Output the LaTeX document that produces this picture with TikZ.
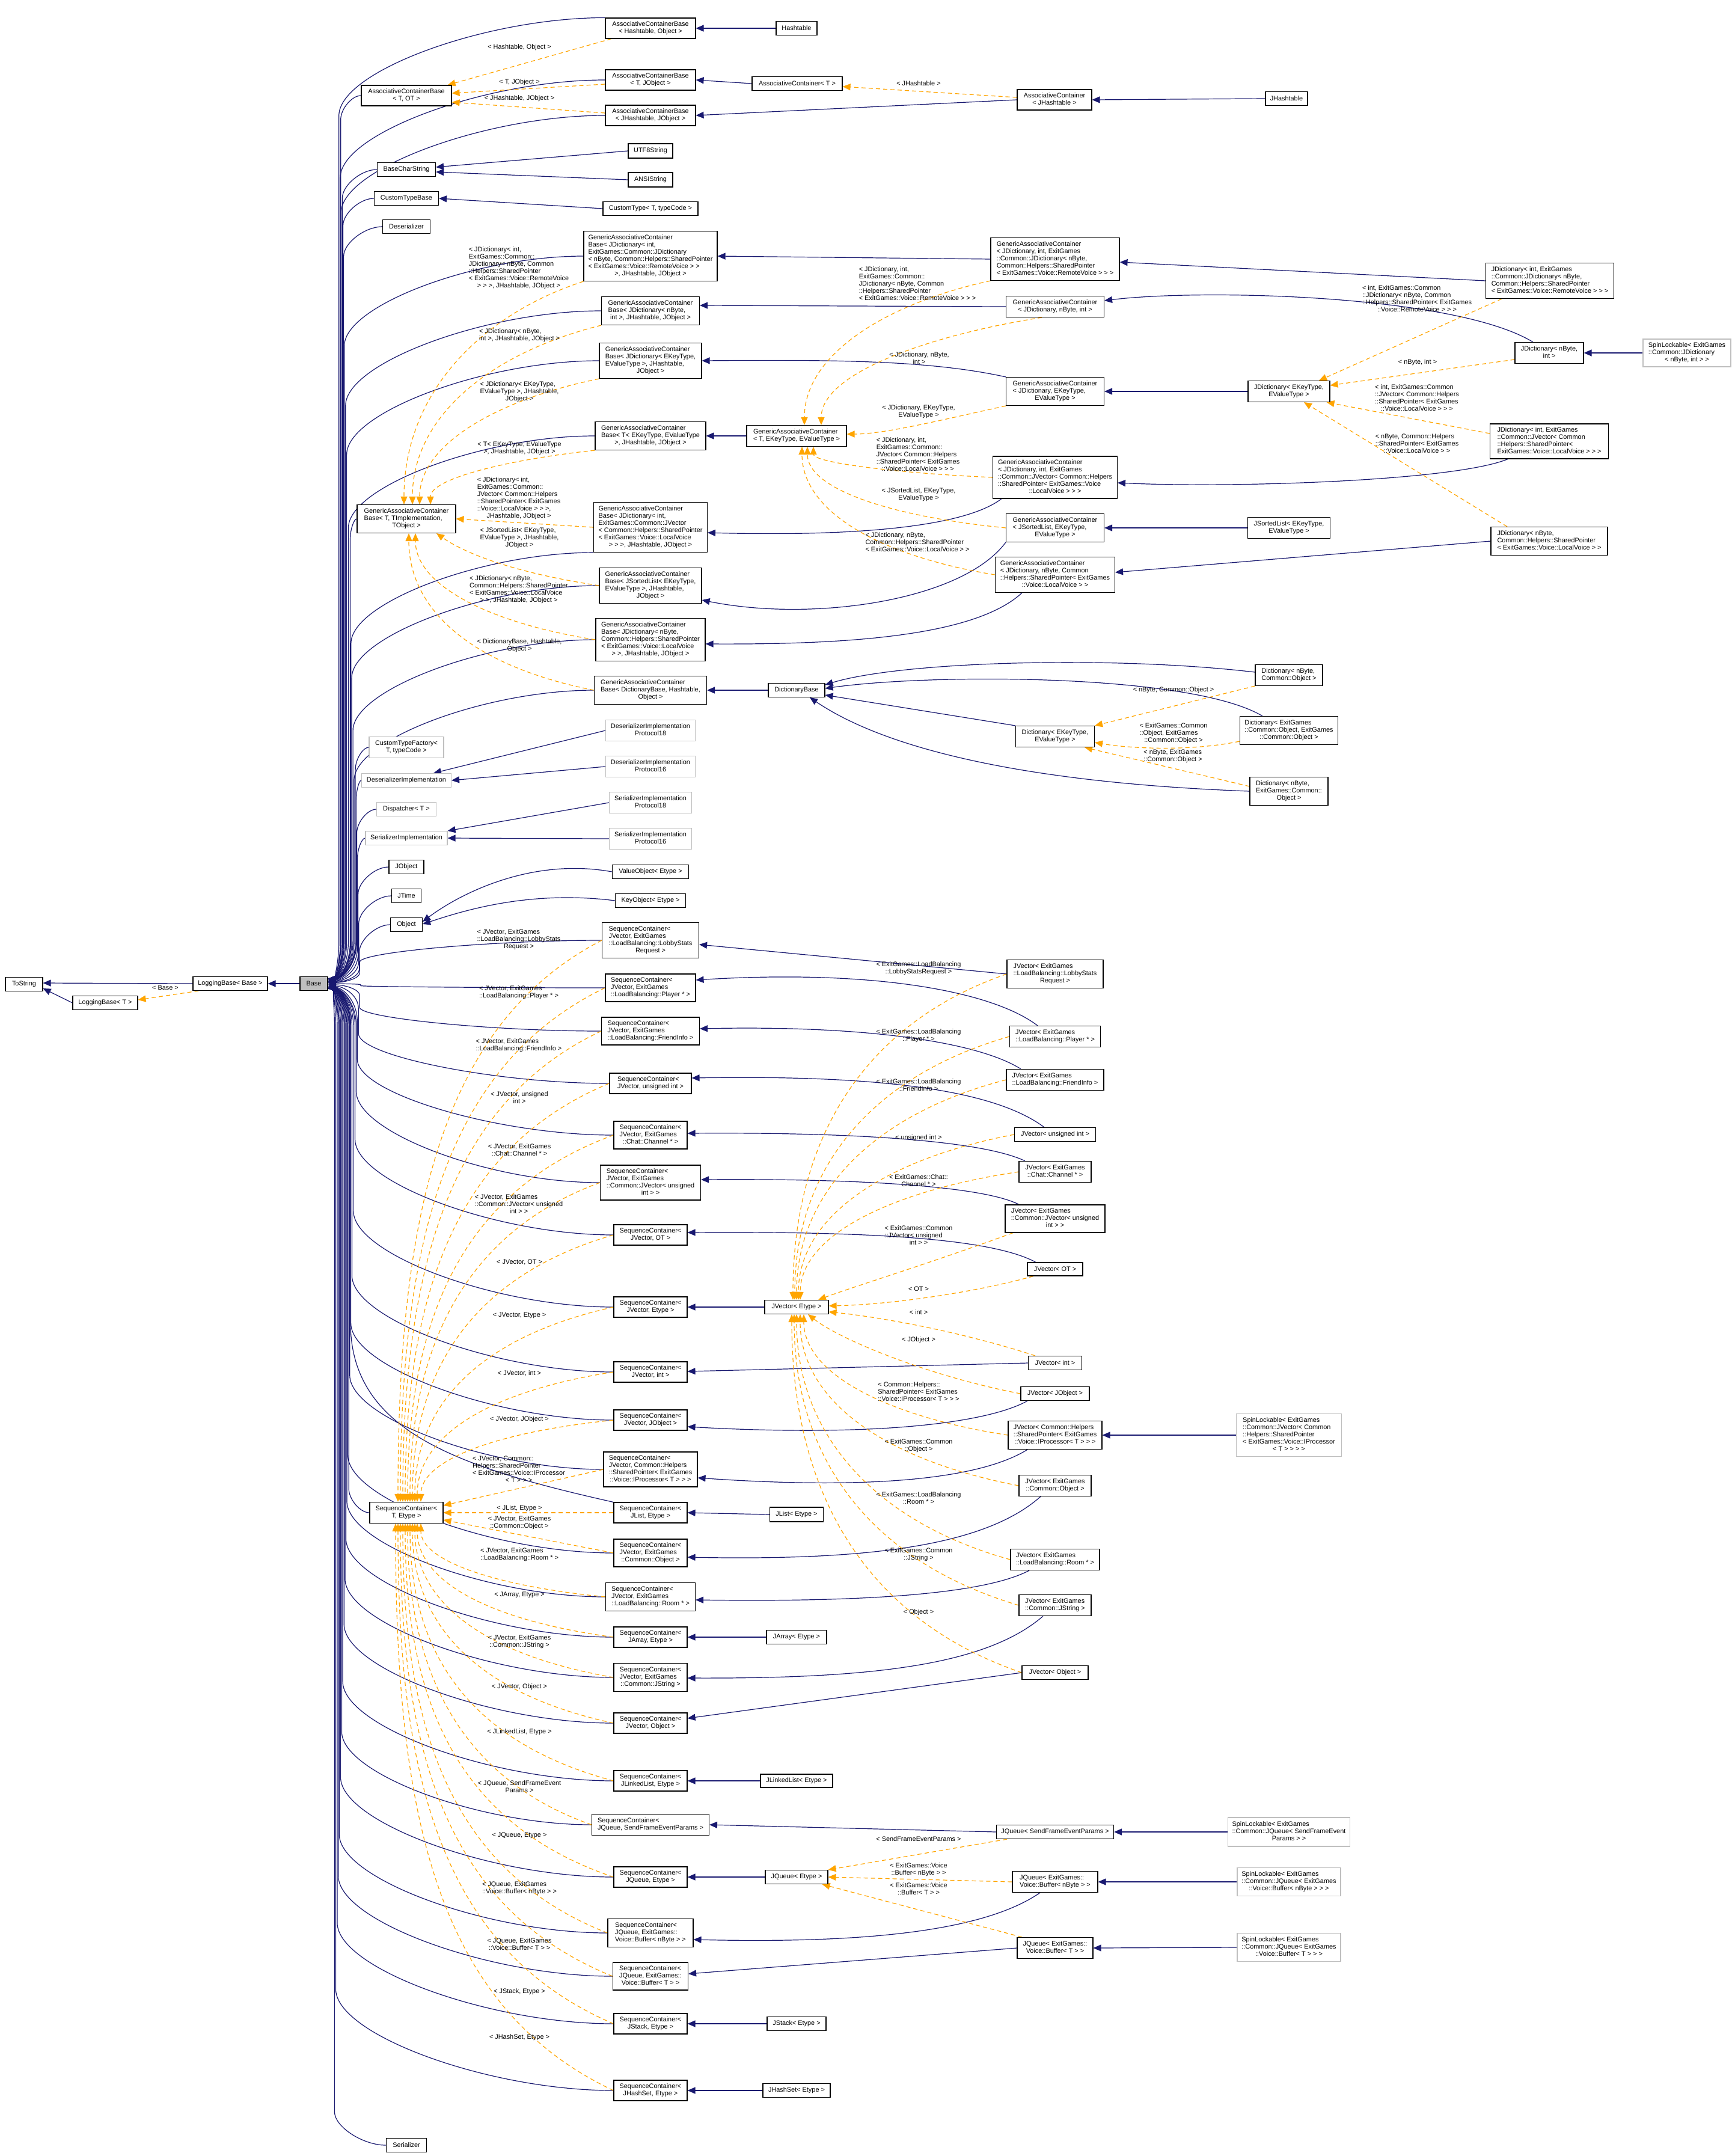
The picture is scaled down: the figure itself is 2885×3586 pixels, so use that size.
\documentclass[tikz,border=0pt]{standalone}
\usepackage{fontspec}
\setmainfont{Liberation Sans}
\usetikzlibrary{arrows.meta,calc}
\definecolor{eblue}{HTML}{191970}
\definecolor{eorange}{HTML}{FFA500}
\definecolor{gb}{HTML}{BFBFBF}
\pgfdeclarelayer{bg}
\pgfdeclarelayer{edges}
\pgfsetlayers{bg,edges,main}
\newcommand\nf{\fontsize{10.9}{12}\selectfont}
\newcommand\mlines[2]{\begin{tabular}{@{}l@{}}#1\\\multicolumn{1}{@{}c@{}}{#2}\end{tabular}}
\tikzset{
  box/.style={draw=black, line width=1.1pt, fill=white, inner sep=0pt, font=\nf},
  nb/.style 2 args={box, minimum width=#1, minimum height=#2},
  gnb/.style 2 args={box, draw=gb, minimum width=#1, minimum height=#2},
  lab/.style={inner sep=0pt, font=\nf},
  inh/.style={draw=eblue, line width=1.2pt, -{Triangle[length=13pt,width=11pt]}},
  tmpl/.style={draw=eorange, line width=1.2pt, dash pattern=on 7pt off 5pt, -{Triangle[length=13pt,width=11pt]}},
}
\newcommand\bedge[1]{\draw[inh] let \p1=(#1), \n1={\y1}, \n8={\x1},
  \n2={556+44*(1-abs(\n1+1636)/1950)},
  \n3={max(-8,min(8,(\n1+1636)/40))},
  \n4={ifthenelse(\n1>-1636,-1,1)},
  \n5={abs(\n1+1636)},
  \n6={min(0.5*\n5,0.3*(\n8-\n2)+30)},
  \n7={min(0.25*\n5,70)} in
  (\p1) .. controls ({\n2+0.55*(\n8-\n2)},\n1) and (\n2,{\n1+(\n4)*0.55*\n6}) .. (\n2,{\n1+(\n4)*\n6})
  -- (\n2,{-1636-(\n4)*\n7}) .. controls (\n2,{-1636-(\n4)*0.45*\n7}) and ({0.5*(\n2+545)},{-1636+\n3}) .. ([yshift=\n3]base.east);}
\newcommand\tvd[3]{\draw[tmpl] let \p1=(#1), \p2=(#2), \n1={\y1}, \n2={\y2}, \n3={\x2} in (\p1) .. controls (#3,{\n1+0.15*(\n2-\n1)}) and (\n3,{0.5*(\n1+\n2)}) .. (\p2);}
\begin{document}
\begin{tikzpicture}[x=1pt,y=1pt]
\begin{pgfonlayer}{bg}
\fill[white] (0,0) rectangle (2885,-3586);
\end{pgfonlayer}
\useasboundingbox (0,0) rectangle (2885,-3586);

% ---------- left
\node[nb={62}{23}] (tostr) at (40,-1637) {ToString};
\node[nb={108}{23}] (lbT) at (175,-1668) {LoggingBase< T >};
\node[nb={124}{23}] (lbB) at (383,-1636) {LoggingBase< Base >};
\node[nb={46}{23}, fill=gb] (base) at (522,-1636) {Base};

% ---------- column 2
\node[nb={150}{34}] (acbTOT) at (676,-159) {\mlines{AssociativeContainerBase}{< T, OT >}};
\node[nb={97}{23}] (bcs) at (676,-282) {BaseCharString};
\node[nb={107}{23}] (ctb) at (676,-330) {CustomTypeBase};
\node[nb={79}{23}] (deser) at (676,-377) {Deserializer};
\node[nb={164}{47}] (gacbT) at (676,-863) {\mlines{GenericAssociativeContainer\\Base< T, TImplementation,}{TObject >}};
\node[gnb={124}{35}] (ctf) at (676,-1243) {\mlines{CustomTypeFactory<}{T, typeCode >}};
\node[gnb={149}{23}] (dimpl) at (676,-1298) {DeserializerImplementation};
\node[gnb={99}{23}] (disp) at (676,-1346) {Dispatcher< T >};
\node[gnb={136}{23}] (simpl) at (676,-1394) {SerializerImplementation};
\node[nb={58}{23}] (jobj) at (676,-1442) {JObject};
\node[nb={49}{23}] (jtime) at (676,-1490) {JTime};
\node[nb={53}{23}] (obj) at (676,-1538) {Object};
\node[nb={122}{35}] (scT) at (676,-2516) {\mlines{SequenceContainer<}{T, Etype >}};
\node[nb={67}{23}] (ser) at (676,-3568) {Serializer};

% ---------- column 3
\node[nb={150}{34}] (acbHO) at (1082,-47) {\mlines{AssociativeContainerBase}{< Hashtable, Object >}};
\node[nb={150}{34}] (acbTJ) at (1082,-133) {\mlines{AssociativeContainerBase}{< T, JObject >}};
\node[nb={150}{34}] (acbJJ) at (1082,-192) {\mlines{AssociativeContainerBase}{< JHashtable, JObject >}};
\node[nb={74}{24}] (utf8) at (1082,-251) {UTF8String};
\node[nb={74}{24}] (ansi) at (1082,-299) {ANSIString};
\node[nb={158}{23}] (ctype) at (1082,-347) {CustomType< T, typeCode >};
\node[nb={222}{83}] (gacbRV) at (1082,-426) {\mlines{GenericAssociativeContainer\\Base< JDictionary< int,\\ExitGames::Common::JDictionary\\< nByte, Common::Helpers::SharedPointer\\< ExitGames::Voice::RemoteVoice > >}{>, JHashtable, JObject >}};
\node[nb={163}{47}] (gacbNI) at (1082,-517) {\mlines{GenericAssociativeContainer\\Base< JDictionary< nByte,}{int >, JHashtable, JObject >}};
\node[nb={170}{59}] (gacbEK) at (1082,-600) {\mlines{GenericAssociativeContainer\\Base< JDictionary< EKeyType,\\EValueType >, JHashtable,}{JObject >}};
\node[nb={184}{47}] (gacbTT) at (1082,-725) {\mlines{GenericAssociativeContainer\\Base< T< EKeyType, EValueType}{>, JHashtable, JObject >}};
\node[nb={189}{83}] (gacbLV) at (1082,-877) {\mlines{GenericAssociativeContainer\\Base< JDictionary< int,\\ExitGames::Common::JVector\\< Common::Helpers::SharedPointer\\< ExitGames::Voice::LocalVoice}{> > >, JHashtable, JObject >}};
\node[nb={170}{59}] (gacbSL) at (1082,-974) {\mlines{GenericAssociativeContainer\\Base< JSortedList< EKeyType,\\EValueType >, JHashtable,}{JObject >}};
\node[nb={182}{71}] (gacbNS) at (1082,-1064) {\mlines{GenericAssociativeContainer\\Base< JDictionary< nByte,\\Common::Helpers::SharedPointer\\< ExitGames::Voice::LocalVoice}{> >, JHashtable, JObject >}};
\node[nb={187}{47}] (gacbDB) at (1082,-1148) {\mlines{GenericAssociativeContainer\\Base< DictionaryBase, Hashtable,}{Object >}};
\node[gnb={149}{35}] (dip18) at (1082,-1215) {\mlines{DeserializerImplementation}{Protocol18}};
\node[gnb={149}{35}] (dip16) at (1082,-1275) {\mlines{DeserializerImplementation}{Protocol16}};
\node[gnb={137}{35}] (sip18) at (1082,-1335) {\mlines{SerializerImplementation}{Protocol18}};
\node[gnb={137}{35}] (sip16) at (1082,-1395) {\mlines{SerializerImplementation}{Protocol16}};
\node[nb={127}{23}] (vobj) at (1082,-1450) {ValueObject< Etype >};
\node[nb={117}{23}] (kobj) at (1082,-1498) {KeyObject< Etype >};
\node[nb={161}{59}] (scLS) at (1082,-1564) {\mlines{SequenceContainer<\\JVector, ExitGames\\::LoadBalancing::LobbyStats}{Request >}};
\node[nb={150}{46}] (scPL) at (1082,-1643) {\mlines{SequenceContainer<\\JVector, ExitGames}{::LoadBalancing::Player * >}};
\node[nb={163}{46}] (scFI) at (1082,-1715) {\mlines{SequenceContainer<\\JVector, ExitGames}{::LoadBalancing::FriendInfo >}};
\node[nb={136}{34}] (scUI) at (1082,-1802) {\mlines{SequenceContainer<}{JVector, unsigned int >}};
\node[nb={122}{46}] (scCH) at (1082,-1888) {\mlines{SequenceContainer<\\JVector, ExitGames}{::Chat::Channel * >}};
\node[nb={167}{58}] (scJU) at (1082,-1967) {\mlines{SequenceContainer<\\JVector, ExitGames\\::Common::JVector< unsigned}{int > >}};
\node[nb={122}{34}] (scOT) at (1082,-2054) {\mlines{SequenceContainer<}{JVector, OT >}};
\node[nb={122}{34}] (scET) at (1082,-2174) {\mlines{SequenceContainer<}{JVector, Etype >}};
\node[nb={122}{34}] (scIN) at (1082,-2282) {\mlines{SequenceContainer<}{JVector, int >}};
\node[nb={122}{34}] (scJO) at (1082,-2362) {\mlines{SequenceContainer<}{JVector, JObject >}};
\node[nb={156}{58}] (scIP) at (1082,-2444) {\mlines{SequenceContainer<\\JVector, Common::Helpers\\::SharedPointer< ExitGames}{::Voice::IProcessor< T > > >}};
\node[nb={122}{34}] (scJL) at (1082,-2516) {\mlines{SequenceContainer<}{JList, Etype >}};
\node[nb={122}{46}] (scCO) at (1082,-2583) {\mlines{SequenceContainer<\\JVector, ExitGames}{::Common::Object >}};
\node[nb={149}{47}] (scRM) at (1082,-2656) {\mlines{SequenceContainer<\\JVector, ExitGames}{::LoadBalancing::Room * >}};
\node[nb={122}{34}] (scJA) at (1082,-2723) {\mlines{SequenceContainer<}{JArray, Etype >}};
\node[nb={122}{47}] (scJS) at (1082,-2790) {\mlines{SequenceContainer<\\JVector, ExitGames}{::Common::JString >}};
\node[nb={122}{34}] (scOB) at (1082,-2866) {\mlines{SequenceContainer<}{JVector, Object >}};
\node[nb={122}{34}] (scLL) at (1082,-2962) {\mlines{SequenceContainer<}{JLinkedList, Etype >}};
\node[nb={195}{35}] (scSF) at (1082,-3035) {\mlines{SequenceContainer<}{JQueue, SendFrameEventParams >}};
\node[nb={122}{34}] (scQE) at (1082,-3122) {\mlines{SequenceContainer<}{JQueue, Etype >}};
\node[nb={142}{47}] (scBN) at (1082,-3215) {\mlines{SequenceContainer<\\JQueue, ExitGames::}{Voice::Buffer< nByte > >}};
\node[nb={125}{46}] (scBT) at (1082,-3287) {\mlines{SequenceContainer<\\JQueue, ExitGames::}{Voice::Buffer< T > >}};
\node[nb={122}{34}] (scST) at (1082,-3366) {\mlines{SequenceContainer<}{JStack, Etype >}};
\node[nb={122}{34}] (scHS) at (1082,-3477) {\mlines{SequenceContainer<}{JHashSet, Etype >}};

% ---------- column 4
\node[nb={68}{23}] (hasht) at (1325,-47) {Hashtable};
\node[nb={150}{23}] (acT) at (1326,-139) {AssociativeContainer< T >};
\node[nb={166}{35}] (gacT) at (1325,-725) {\mlines{GenericAssociativeContainer}{< T, EKeyType, EValueType >}};
\node[nb={94}{23}] (dictb) at (1325,-1148) {DictionaryBase};
\node[nb={106}{23}] (jvE) at (1325,-2174) {JVector< Etype >};
\node[nb={89}{24}] (jlE) at (1325,-2519) {JList< Etype >};
\node[nb={100}{23}] (jaE) at (1325,-2723) {JArray< Etype >};
\node[nb={120}{22}] (jllE) at (1325,-2962) {JLinkedList< Etype >};
\node[nb={104}{23}] (jqE) at (1325,-3122) {JQueue< Etype >};
\node[nb={98}{23}] (jsE) at (1325,-3366) {JStack< Etype >};
\node[nb={112}{23}] (jhE) at (1325,-3477) {JHashSet< Etype >};

% ---------- column 5
\node[nb={124}{34}] (acJH) at (1754,-166) {\mlines{AssociativeContainer}{< JHashtable >}};
\node[nb={214}{71}] (gacRV) at (1755,-431) {\mlines{GenericAssociativeContainer\\< JDictionary, int, ExitGames\\::Common::JDictionary< nByte,\\Common::Helpers::SharedPointer}{< ExitGames::Voice::RemoteVoice > > >}};
\node[nb={163}{35}] (gacNI) at (1755,-510) {\mlines{GenericAssociativeContainer}{< JDictionary, nByte, int >}};
\node[nb={163}{47}] (gacEK) at (1755,-651) {\mlines{GenericAssociativeContainer\\< JDictionary, EKeyType,}{EValueType >}};
\node[nb={207}{70}] (gacLV) at (1755,-794) {\mlines{GenericAssociativeContainer\\< JDictionary, int, ExitGames\\::Common::JVector< Common::Helpers\\::SharedPointer< ExitGames::Voice}{::LocalVoice > > >}};
\node[nb={163}{47}] (gacSL) at (1755,-878) {\mlines{GenericAssociativeContainer\\< JSortedList, EKeyType,}{EValueType >}};
\node[nb={199}{59}] (gacNS) at (1755,-956) {\mlines{GenericAssociativeContainer\\< JDictionary, nByte, Common\\::Helpers::SharedPointer< ExitGames}{::Voice::LocalVoice > >}};
\node[nb={131}{35}] (dictEK) at (1755,-1225) {\mlines{Dictionary< EKeyType,}{EValueType >}};
\node[nb={160}{47}] (jvLS) at (1755,-1620) {\mlines{JVector< ExitGames\\::LoadBalancing::LobbyStats}{Request >}};
\node[nb={151}{35}] (jvPL) at (1755,-1724) {\mlines{JVector< ExitGames}{::LoadBalancing::Player * >}};
\node[nb={162}{35}] (jvFI) at (1755,-1796) {\mlines{JVector< ExitGames}{::LoadBalancing::FriendInfo >}};
\node[nb={135}{23}] (jvUI) at (1755,-1887) {JVector< unsigned int >};
\node[nb={120}{35}] (jvCH) at (1755,-1949) {\mlines{JVector< ExitGames}{::Chat::Channel * >}};
\node[nb={166}{46}] (jvJU) at (1755,-2027) {\mlines{JVector< ExitGames\\::Common::JVector< unsigned}{int > >}};
\node[nb={92}{22}] (jvOT) at (1755,-2111) {JVector< OT >};
\node[nb={89}{23}] (jvIN) at (1755,-2267) {JVector< int >};
\node[nb={114}{23}] (jvJO) at (1755,-2318) {JVector< JObject >};
\node[nb={156}{47}] (jvIP) at (1755,-2387) {\mlines{JVector< Common::Helpers\\::SharedPointer< ExitGames}{::Voice::IProcessor< T > > >}};
\node[nb={120}{35}] (jvCO) at (1755,-2471) {\mlines{JVector< ExitGames}{::Common::Object >}};
\node[nb={148}{35}] (jvRM) at (1755,-2594) {\mlines{JVector< ExitGames}{::LoadBalancing::Room * >}};
\node[nb={120}{35}] (jvJS) at (1755,-2670) {\mlines{JVector< ExitGames}{::Common::JString >}};
\node[nb={110}{23}] (jvOB) at (1755,-2782) {JVector< Object >};
\node[nb={195}{23}] (jqSF) at (1755,-3047) {JQueue< SendFrameEventParams >};
\node[nb={142}{35}] (jqBN) at (1755,-3130) {\mlines{JQueue< ExitGames::}{Voice::Buffer< nByte > >}};
\node[nb={126}{35}] (jqBT) at (1755,-3240) {\mlines{JQueue< ExitGames::}{Voice::Buffer< T > >}};

% ---------- column 6
\node[nb={70}{23}] (jht) at (2140,-164) {JHashtable};
\node[nb={136}{35}] (jdEK) at (2144,-651) {\mlines{JDictionary< EKeyType,}{EValueType >}};
\node[nb={137}{35}] (jslEK) at (2144,-878) {\mlines{JSortedList< EKeyType,}{EValueType >}};
\node[nb={112}{35}] (dNC) at (2144,-1123) {\mlines{Dictionary< nByte,}{Common::Object >}};
\node[nb={163}{47}] (dCC) at (2144,-1215) {\mlines{Dictionary< ExitGames\\::Common::Object, ExitGames}{::Common::Object >}};
\node[nb={130}{47}] (dNE) at (2144,-1316) {\mlines{Dictionary< nByte,\\ExitGames::Common::}{Object >}};
\node[gnb={175}{71}] (slIP) at (2144,-2387) {\mlines{SpinLockable< ExitGames\\::Common::JVector< Common\\::Helpers::SharedPointer\\< ExitGames::Voice::IProcessor}{< T > > > >}};
\node[gnb={203}{48}] (slSF) at (2144,-3047) {\mlines{SpinLockable< ExitGames\\::Common::JQueue< SendFrameEvent}{Params > >}};
\node[gnb={172}{47}] (slBN) at (2144,-3130) {\mlines{SpinLockable< ExitGames\\::Common::JQueue< ExitGames}{::Voice::Buffer< nByte > > >}};
\node[gnb={172}{47}] (slBT) at (2144,-3239) {\mlines{SpinLockable< ExitGames\\::Common::JQueue< ExitGames}{::Voice::Buffer< T > > >}};

% ---------- column 7/8
\node[nb={213}{59}] (jdRV) at (2578,-467) {\mlines{JDictionary< int, ExitGames\\::Common::JDictionary< nByte,\\Common::Helpers::SharedPointer}{< ExitGames::Voice::RemoteVoice > > >}};
\node[nb={114}{35}] (jdNI) at (2577,-587) {\mlines{JDictionary< nByte,}{int >}};
\node[nb={197}{58}] (jdLV) at (2577,-734) {\mlines{JDictionary< int, ExitGames\\::Common::JVector< Common\\::Helpers::SharedPointer<}{ExitGames::Voice::LocalVoice > > >}};
\node[nb={194}{47}] (jdNS) at (2577,-900) {\mlines{JDictionary< nByte,\\Common::Helpers::SharedPointer}{< ExitGames::Voice::LocalVoice > >}};
\node[gnb={146}{46}] (slNI) at (2806,-587) {\mlines{SpinLockable< ExitGames\\::Common::JDictionary}{< nByte, int > >}};

% ---------- labels
\node[lab] (la1) at (864,-79) {< Hashtable, Object >};
\node[lab] (la2) at (864,-137) {< T, JObject >};
\node[lab] (la3) at (864,-164) {< JHashtable, JObject >};
\node[lab] (la4) at (1528,-139) {< JHashtable >};
\node[lab] (la5) at (275,-1643) {< Base >};

\node[lab] (lg1) at (863,-446) {\mlines{< JDictionary< int,\\ExitGames::Common::\\JDictionary< nByte, Common\\::Helpers::SharedPointer\\< ExitGames::Voice::RemoteVoice}{> > >, JHashtable, JObject >}};
\node[lab] (lg2) at (864,-558) {\mlines{< JDictionary< nByte,}{int >, JHashtable, JObject >}};
\node[lab] (lg3) at (864,-652) {\mlines{< JDictionary< EKeyType,\\EValueType >, JHashtable,}{JObject >}};
\node[lab] (lg4) at (864,-746) {\mlines{< T< EKeyType, EValueType}{>, JHashtable, JObject >}};
\node[lab] (lg5) at (863,-829) {\mlines{< JDictionary< int,\\ExitGames::Common::\\JVector< Common::Helpers\\::SharedPointer< ExitGames\\::Voice::LocalVoice > > >,}{JHashtable, JObject >}};
\node[lab] (lg6) at (864,-895) {\mlines{< JSortedList< EKeyType,\\EValueType >, JHashtable,}{JObject >}};
\node[lab] (lg7) at (863,-981) {\mlines{< JDictionary< nByte,\\Common::Helpers::SharedPointer\\< ExitGames::Voice::LocalVoice}{> >, JHashtable, JObject >}};
\node[lab] (lg8) at (864,-1074) {\mlines{< DictionaryBase, Hashtable,}{Object >}};

\node[lab] (lc1) at (1526,-473) {\mlines{< JDictionary, int,\\ExitGames::Common::\\JDictionary< nByte, Common\\::Helpers::SharedPointer}{< ExitGames::Voice::RemoteVoice > > >}};
\node[lab] (lc2) at (1529,-597) {\mlines{< JDictionary, nByte,}{int >}};
\node[lab] (lc3) at (1528,-685) {\mlines{< JDictionary, EKeyType,}{EValueType >}};
\node[lab] (lc4) at (1527,-757) {\mlines{< JDictionary, int,\\ExitGames::Common::\\JVector< Common::Helpers\\::SharedPointer< ExitGames}{::Voice::LocalVoice > > >}};
\node[lab] (lc5) at (1528,-823) {\mlines{< JSortedList, EKeyType,}{EValueType >}};
\node[lab] (lc6) at (1526,-903) {\mlines{< JDictionary, nByte,\\Common::Helpers::SharedPointer}{< ExitGames::Voice::LocalVoice > >}};

\node[lab] (ld1) at (2357,-498) {\mlines{< int, ExitGames::Common\\::JDictionary< nByte, Common\\::Helpers::SharedPointer< ExitGames}{::Voice::RemoteVoice > > >}};
\node[lab] (ld2) at (2358,-603) {< nByte, int >};
\node[lab] (ld3) at (2357,-663) {\mlines{< int, ExitGames::Common\\::JVector< Common::Helpers\\::SharedPointer< ExitGames}{::Voice::LocalVoice > > >}};
\node[lab] (ld4) at (2357,-739) {\mlines{< nByte, Common::Helpers\\::SharedPointer< ExitGames}{::Voice::LocalVoice > >}};

\node[lab] (lt1) at (1952,-1148) {< nByte, Common::Object >};
\node[lab] (lt2) at (1952,-1220) {\mlines{< ExitGames::Common\\::Object, ExitGames}{::Common::Object >}};
\node[lab] (lt3) at (1951,-1258) {\mlines{< nByte, ExitGames}{::Common::Object >}};

\node[lab] (ls1) at (863,-1563) {\mlines{< JVector, ExitGames\\::LoadBalancing::LobbyStats}{Request >}};
\node[lab] (ls2) at (863,-1651) {\mlines{< JVector, ExitGames}{::LoadBalancing::Player * >}};
\node[lab] (ls3) at (863,-1739) {\mlines{< JVector, ExitGames}{::LoadBalancing::FriendInfo >}};
\node[lab] (ls4) at (864,-1827) {\mlines{< JVector, unsigned}{int >}};
\node[lab] (ls5) at (864,-1914) {\mlines{< JVector, ExitGames}{::Chat::Channel * >}};
\node[lab] (ls6) at (863,-2004) {\mlines{< JVector, ExitGames\\::Common::JVector< unsigned}{int > >}};
\node[lab] (ls7) at (864,-2099) {< JVector, OT >};
\node[lab] (ls8) at (864,-2188) {< JVector, Etype >};
\node[lab] (ls9) at (864,-2284) {< JVector, int >};
\node[lab] (ls10) at (864,-2361) {< JVector, JObject >};
\node[lab] (ls11) at (863,-2445) {\mlines{< JVector, Common::\\Helpers::SharedPointer\\< ExitGames::Voice::IProcessor}{< T > > >}};
\node[lab] (ls12) at (864,-2509) {< JList, Etype >};
\node[lab] (ls13) at (864,-2533) {\mlines{< JVector, ExitGames}{::Common::Object >}};
\node[lab] (ls14) at (864,-2586) {\mlines{< JVector, ExitGames}{::LoadBalancing::Room * >}};
\node[lab] (ls15) at (864,-2653) {< JArray, Etype >};
\node[lab] (ls16) at (864,-2731) {\mlines{< JVector, ExitGames}{::Common::JString >}};
\node[lab] (ls17) at (864,-2806) {< JVector, Object >};
\node[lab] (ls18) at (864,-2881) {< JLinkedList, Etype >};
\node[lab] (ls19) at (864,-2973) {\mlines{< JQueue, SendFrameEvent}{Params >}};
\node[lab] (ls20) at (864,-3053) {< JQueue, Etype >};
\node[lab] (ls21) at (864,-3141) {\mlines{< JQueue, ExitGames}{::Voice::Buffer< nByte > >}};
\node[lab] (ls22) at (864,-3235) {\mlines{< JQueue, ExitGames}{::Voice::Buffer< T > >}};
\node[lab] (ls23) at (864,-3313) {< JStack, Etype >};
\node[lab] (ls24) at (864,-3389) {< JHashSet, Etype >};

\node[lab] (lv1) at (1528,-1611) {\mlines{< ExitGames::LoadBalancing}{::LobbyStatsRequest >}};
\node[lab] (lv2) at (1528,-1723) {\mlines{< ExitGames::LoadBalancing}{::Player * >}};
\node[lab] (lv3) at (1528,-1806) {\mlines{< ExitGames::LoadBalancing}{::FriendInfo >}};
\node[lab] (lv4) at (1528,-1893) {< unsigned int >};
\node[lab] (lv5) at (1528,-1965) {\mlines{< ExitGames::Chat::}{Channel * >}};
\node[lab] (lv6) at (1528,-2056) {\mlines{< ExitGames::Common\\::JVector< unsigned}{int > >}};
\node[lab] (lv7) at (1528,-2144) {< OT >};
\node[lab] (lv8) at (1528,-2183) {< int >};
\node[lab] (lv9) at (1528,-2229) {< JObject >};
\node[lab] (lv10) at (1528,-2316) {\mlines{< Common::Helpers::\\SharedPointer< ExitGames}{::Voice::IProcessor< T > > >}};
\node[lab] (lv11) at (1528,-2405) {\mlines{< ExitGames::Common}{::Object >}};
\node[lab] (lv12) at (1528,-2493) {\mlines{< ExitGames::LoadBalancing}{::Room * >}};
\node[lab] (lv13) at (1528,-2586) {\mlines{< ExitGames::Common}{::JString >}};
\node[lab] (lv14) at (1528,-2682) {< Object >};

\node[lab] (lq1) at (1528,-3059) {< SendFrameEventParams >};
\node[lab] (lq2) at (1528,-3110) {\mlines{< ExitGames::Voice}{::Buffer< nByte > >}};
\node[lab] (lq3) at (1528,-3143) {\mlines{< ExitGames::Voice}{::Buffer< T > >}};

\begin{pgfonlayer}{edges}
% ---------- edges: left
\draw[inh] (lbT.west) -- ([yshift=-7]tostr.east);
\draw[inh] (lbB.west) -- ([yshift=2]tostr.east);
\draw[inh] (base.west) -- (lbB.east);
\draw[tmpl] ([xshift=10]lbB.south west) -- ([yshift=5]lbT.east);

% ---------- edges into Base
\bedge{acbHO.north west}
\bedge{acbTJ.west}
\bedge{acbTOT.west}
\bedge{acbJJ.west}
\bedge{bcs.west}
\bedge{ctb.west}
\bedge{deser.west}
\bedge{gacbRV.west}
\bedge{gacbNI.west}
\bedge{gacbEK.west}
\bedge{gacbTT.west}
\bedge{gacbT.west}
\bedge{gacbLV.south west}
\bedge{gacbSL.west}
\bedge{gacbNS.west}
\bedge{gacbDB.west}
\bedge{ctf.west}
\bedge{dimpl.west}
\bedge{disp.west}
\bedge{simpl.west}
\bedge{jobj.west}
\bedge{jtime.west}
\bedge{obj.west}
\bedge{scLS.west}
\bedge{scPL.west}
\bedge{scFI.west}
\bedge{scUI.west}
\bedge{scCH.west}
\bedge{scJU.west}
\bedge{scOT.west}
\bedge{scET.west}
\bedge{scIN.west}
\bedge{scJO.west}
\bedge{scIP.west}
\bedge{scT.west}
\draw[inh] (scJL.north west) .. controls (760,-2440) and (583,-2380) .. (583,-2200) -- (583,-1710) .. controls (583,-1670) and (564,-1642) .. ([yshift=-6]base.east);
\bedge{scCO.west}
\bedge{scRM.west}
\bedge{scJA.west}
\bedge{scJS.west}
\bedge{scOB.west}
\bedge{scLL.west}
\bedge{scSF.west}
\bedge{scQE.west}
\bedge{scBN.west}
\bedge{scBT.west}
\bedge{scST.west}
\bedge{scHS.west}
\bedge{ser.west}

% ---------- ACB
\draw[inh] (hasht.west) -- (acbHO.east);
\draw[inh] (acT.west) -- (acbTJ.east);
\draw[inh] (acJH.west) -- (acbJJ.east);
\draw[inh] (jht.west) -- (acJH.east);
\draw[tmpl] ([xshift=-65]acbHO.south) -- ([xshift=-7]acbTOT.north east);
\draw[tmpl] ([yshift=-7]acbTJ.west) -- ([yshift=4]acbTOT.east);
\draw[tmpl] ([yshift=4]acbJJ.west) -- ([yshift=-11]acbTOT.east);
\draw[tmpl] ([yshift=4]acJH.west) -- ([yshift=-5]acT.east);

% ---------- strings / custom types
\draw[inh] (utf8.west) -- ([yshift=4]bcs.east);
\draw[inh] (ansi.west) -- ([yshift=-4]bcs.east);
\draw[inh] (ctype.west) -- (ctb.east);

% ---------- GAC -> GACB
\draw[inh] (gacRV.west) -- (gacbRV.east);
\draw[inh] (gacNI.west) -- ([yshift=9]gacbNI.east);
\draw[inh] (gacEK.north west) .. controls (1550,-600) and (1400,-598) .. (gacbEK.east);
\draw[inh] (gacT.west) -- (gacbTT.east);
\draw[inh] ([xshift=15]gacLV.south west) .. controls (1600,-880) and (1400,-892) .. ([yshift=-9]gacbLV.east);
\draw[inh] (gacSL.south west) .. controls (1600,-1000) and (1350,-1035) .. ([yshift=-24]gacbSL.east);
\draw[inh] ([xshift=45]gacNS.south west) .. controls (1620,-1060) and (1400,-1072) .. ([yshift=-7]gacbNS.east);

% ---------- JDictionary -> GAC
\draw[inh] (jdRV.west) -- ([yshift=-5]gacRV.east);
\draw[inh] ([xshift=-27]jdNI.north) .. controls (2420,-490) and (2000,-480) .. ([yshift=10]gacNI.east);
\draw[inh] (slNI.west) -- (jdNI.east);
\draw[inh] (jdEK.west) -- (gacEK.east);
\draw[inh] ([xshift=-69]jdLV.south) .. controls (2420,-800) and (2050,-812) .. ([yshift=-9]gacLV.east);
\draw[inh] (jslEK.west) -- (gacSL.east);
\draw[inh] (jdNS.west) -- ([yshift=4]gacNS.east);

% ---------- GACB templates
\tvd{gacbRV.south west}{[xshift=-4]gacbT.north}{800}
\tvd{gacbNI.south west}{[xshift=10]gacbT.north}{820}
\tvd{gacbEK.south west}{[xshift=22]gacbT.north}{840}
\tvd{gacbTT.south west}{[xshift=40]gacbT.north}{860}
\draw[tmpl] (gacbLV.west) -- (gacbT.east);
\draw[tmpl] (gacbSL.west) .. controls (870,-955) and (780,-925) .. ([xshift=50]gacbT.south);
\tvd{gacbNS.west}{[xshift=15]gacbT.south}{820}
\tvd{gacbDB.west}{[xshift=4]gacbT.south}{790}

% ---------- GAC templates
\tvd{gacRV.south west}{[xshift=13]gacT.north}{1480}
\tvd{[xshift=-22]gacNI.south}{[xshift=41]gacT.north}{1560}
\draw[tmpl] (gacEK.south west) .. controls (1560,-700) and (1470,-722) .. ([yshift=3]gacT.east);
\tvd{gacLV.west}{[xshift=28]gacT.south}{1480}
\tvd{gacSL.west}{[xshift=18]gacT.south}{1470}
\tvd{gacNS.west}{[xshift=9]gacT.south}{1460}

% ---------- JDictionary templates
\draw[tmpl] ([xshift=-80]jdRV.south) -- ([xshift=50]jdEK.north);
\draw[tmpl] ([yshift=-11]jdNI.west) -- ([yshift=10]jdEK.east);
\draw[tmpl] ([yshift=13]jdLV.west) -- ([xshift=-6]jdEK.south east);
\draw[tmpl] ([xshift=-70]jdNS.north) -- ([xshift=25]jdEK.south);

% ---------- Dictionary
\draw[inh] (dictb.west) -- (gacbDB.east);
\draw[inh] ([yshift=5]dNC.west) .. controls (1850,-1090) and (1500,-1100) .. ([yshift=9]dictb.east);
\draw[inh] ([xshift=-44]dCC.north) .. controls (1980,-1120) and (1550,-1120) .. ([yshift=3]dictb.east);
\draw[inh] (dictEK.north west) -- ([yshift=-8]dictb.east);
\draw[inh] (dNE.west) .. controls (1650,-1300) and (1450,-1230) .. ([xshift=22]dictb.south);
\draw[tmpl] (dNC.south west) -- (dictEK.north east);
\draw[tmpl] ([yshift=-18]dCC.west) .. controls (1980,-1250) and (1880,-1245) .. ([yshift=-10]dictEK.east);
\draw[tmpl] ([yshift=8]dNE.west) -- ([xshift=-17]dictEK.south east);

% ---------- (de)serializer, objects
\draw[inh] (dip18.west) -- ([xshift=45]dimpl.north);
\draw[inh] (dip16.west) -- (dimpl.east);
\draw[inh] (sip18.west) -- (simpl.north east);
\draw[inh] (sip16.west) -- (simpl.east);
\draw[inh] (vobj.west) .. controls (880,-1425) and (760,-1490) .. ([yshift=5]obj.east);
\draw[inh] (kobj.west) .. controls (880,-1480) and (770,-1515) .. ([yshift=1]obj.east);

% ---------- JVector etc. -> SequenceContainer instances
\draw[inh] (jvLS.west) -- ([yshift=-7]scLS.east);
\draw[inh] ([xshift=-29]jvPL.north) .. controls (1650,-1648) and (1450,-1612) .. ([yshift=13]scPL.east);
\draw[inh] ([xshift=-57]jvFI.north) .. controls (1630,-1735) and (1450,-1705) .. ([yshift=4]scFI.east);
\draw[inh] ([xshift=-18]jvUI.north) .. controls (1650,-1810) and (1450,-1788) .. ([yshift=9]scUI.east);
\draw[inh] ([xshift=-50]jvCH.north) .. controls (1640,-1900) and (1450,-1883) .. ([yshift=3]scCH.east);
\draw[inh] ([xshift=-60]jvJU.north) .. controls (1640,-1975) and (1450,-1960) .. ([yshift=5]scJU.east);
\draw[inh] ([xshift=-32]jvOT.north) .. controls (1650,-2060) and (1450,-2048) .. ([yshift=4]scOT.east);
\draw[inh] (jvE.west) -- (scET.east);
\draw[inh] (jvIN.west) -- ([yshift=1]scIN.east);
\draw[inh] ([xshift=-46]jvJO.south) .. controls (1640,-2368) and (1450,-2390) .. ([yshift=-11]scJO.east);
\draw[inh] ([xshift=-46]jvIP.south) .. controls (1630,-2460) and (1450,-2478) .. ([yshift=-14]scIP.east);
\draw[inh] ([xshift=-24]jvCO.south) .. controls (1640,-2570) and (1450,-2596) .. ([yshift=-7]scCO.east);
\draw[inh] ([xshift=-43]jvRM.south) .. controls (1640,-2650) and (1450,-2665) .. ([yshift=-5]scRM.east);
\draw[inh] ([xshift=-20]jvJS.south) .. controls (1640,-2770) and (1450,-2792) .. ([yshift=-1]scJS.east);
\draw[inh] (jvOB.west) -- ([yshift=8]scOB.east);
\draw[inh] (jqSF.west) -- (scSF.east);
\draw[inh] ([xshift=-25]jqBN.south) .. controls (1640,-3210) and (1450,-3233) .. ([yshift=-11]scBN.east);
\draw[inh] (jqBT.west) -- ([yshift=4]scBT.east);
\draw[inh] (jlE.west) -- (scJL.east);
\draw[inh] (jaE.west) -- (scJA.east);
\draw[inh] (jllE.west) -- (scLL.east);
\draw[inh] (jqE.west) -- (scQE.east);
\draw[inh] (jsE.west) -- (scST.east);
\draw[inh] (jhE.west) -- (scHS.east);
\draw[inh] (slIP.west) -- (jvIP.east);
\draw[inh] (slSF.west) -- (jqSF.east);
\draw[inh] (slBN.west) -- (jqBN.east);
\draw[inh] (slBT.west) -- (jqBT.east);

% ---------- SequenceContainer templates
\tvd{scLS.west}{[xshift=-14]scT.north}{730}
\tvd{scPL.west}{[xshift=-10]scT.north}{740}
\tvd{scFI.west}{[xshift=-6]scT.north}{750}
\tvd{scUI.west}{[xshift=-2]scT.north}{760}
\tvd{scCH.west}{[xshift=2]scT.north}{770}
\tvd{scJU.west}{[xshift=6]scT.north}{780}
\tvd{scOT.west}{[xshift=10]scT.north}{790}
\tvd{scET.west}{[xshift=14]scT.north}{800}
\tvd{scIN.west}{[xshift=18]scT.north}{810}
\tvd{scJO.west}{[xshift=24]scT.north}{820}
\draw[tmpl] (scIP.west) -- ([yshift=12]scT.east);
\draw[tmpl] (scJL.west) -- (scT.east);
\draw[tmpl] (scCO.west) -- ([yshift=-12]scT.east);
\tvd{scRM.west}{[xshift=24]scT.south}{820}
\tvd{scJA.west}{[xshift=18]scT.south}{810}
\tvd{scJS.west}{[xshift=14]scT.south}{800}
\tvd{scOB.west}{[xshift=10]scT.south}{790}
\tvd{scLL.west}{[xshift=6]scT.south}{780}
\tvd{scSF.west}{[xshift=2]scT.south}{770}
\tvd{scQE.west}{[xshift=-2]scT.south}{760}
\tvd{scBN.west}{[xshift=-6]scT.south}{750}
\tvd{scBT.west}{[xshift=-10]scT.south}{740}
\tvd{scST.west}{[xshift=-14]scT.south}{730}
\tvd{scHS.west}{[xshift=-18]scT.south}{720}

% ---------- JVector templates
\tvd{jvLS.west}{[xshift=-6]jvE.north}{1440}
\tvd{jvPL.west}{[xshift=-3]jvE.north}{1450}
\tvd{jvFI.west}{[xshift=0]jvE.north}{1460}
\tvd{jvUI.west}{[xshift=3]jvE.north}{1470}
\tvd{jvCH.west}{[xshift=6]jvE.north}{1480}
\draw[tmpl] ([xshift=-70]jvJU.south) .. controls (1550,-2100) and (1420,-2140) .. ([xshift=36]jvE.north);
\draw[tmpl] ([xshift=-36]jvOT.south) .. controls (1620,-2150) and (1480,-2170) .. ([yshift=2]jvE.east);
\draw[tmpl] ([xshift=-33]jvIN.north) .. controls (1600,-2215) and (1460,-2190) .. ([yshift=-8]jvE.east);
\draw[tmpl] (jvJO.west) .. controls (1550,-2290) and (1400,-2230) .. ([xshift=19]jvE.south);
\tvd{jvIP.west}{[xshift=12]jvE.south}{1480}
\tvd{jvCO.west}{[xshift=6]jvE.south}{1470}
\tvd{jvRM.west}{[xshift=0]jvE.south}{1460}
\tvd{jvJS.west}{[xshift=-4]jvE.south}{1450}
\tvd{jvOB.west}{[xshift=-8]jvE.south}{1440}

% ---------- JQueue templates
\draw[tmpl] ([xshift=-80]jqSF.south) -- (jqE.north east);
\draw[tmpl] (jqBN.west) -- (jqE.east);
\draw[tmpl] ([xshift=-55]jqBT.north) -- ([xshift=-10]jqE.south east);
\end{pgfonlayer}
\end{tikzpicture}
\end{document}
